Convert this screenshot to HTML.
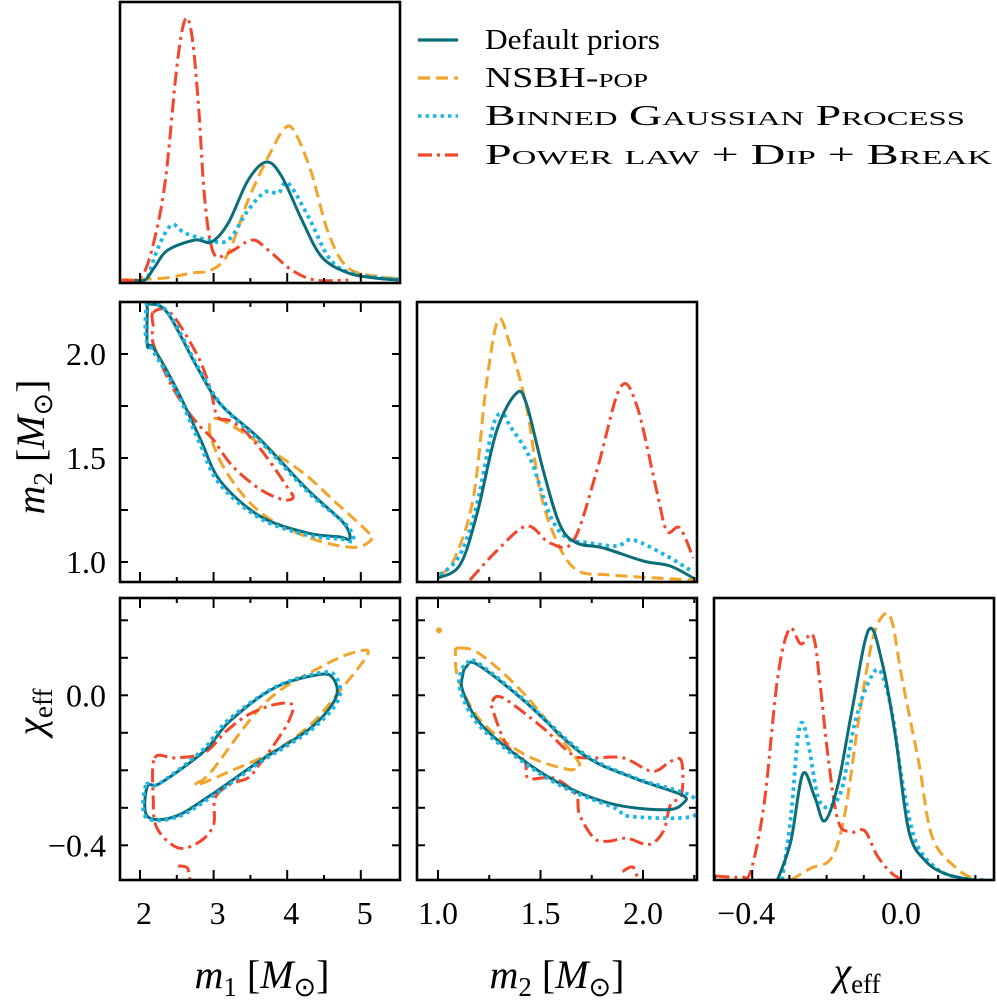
<!DOCTYPE html>
<html><head><meta charset="utf-8">
<style>
html,body{margin:0;padding:0;background:#fff;}
svg{display:block;}
text{font-family:"Liberation Serif","DejaVu Serif",serif;fill:#000;}
</style></head>
<body>
<svg id="fig" width="997" height="1004" viewBox="0 0 997 1004" xmlns="http://www.w3.org/2000/svg">
<defs>
<clipPath id="c-top"><rect x="120" y="2" width="280" height="281"/></clipPath>
<clipPath id="c-m2m1"><rect x="120" y="302" width="280" height="280"/></clipPath>
<clipPath id="c-m2"><rect x="417" y="302" width="280" height="280"/></clipPath>
<clipPath id="c-chim1"><rect x="120" y="598" width="280" height="282"/></clipPath>
<clipPath id="c-chim2"><rect x="417" y="598" width="280" height="282"/></clipPath>
<clipPath id="c-chi"><rect x="714" y="598" width="280" height="282"/></clipPath>
</defs>
<g id="marks"></g>
<g id="axes"></g>
<g id="legend">
  <line x1="418" y1="40" x2="458" y2="40" stroke="#0b6e79" stroke-width="3.2"/>
  <text x="485" y="49" font-size="28" textLength="175" lengthAdjust="spacingAndGlyphs">Default priors</text>
  <line x1="418" y1="78" x2="458" y2="78" stroke="#f2a42b" stroke-width="3.2" stroke-dasharray="12,6"/>
  <text x="485" y="87" font-size="28" textLength="163" lengthAdjust="spacingAndGlyphs" style="font-variant:small-caps">NSBH-pop</text>
  <line x1="418" y1="116" x2="458" y2="116" stroke="#1cb5e6" stroke-width="3.6" stroke-dasharray="3.5,4"/>
  <text x="485" y="125" font-size="28" textLength="480" lengthAdjust="spacingAndGlyphs" style="font-variant:small-caps">Binned Gaussian Process</text>
  <line x1="418" y1="155" x2="458" y2="155" stroke="#f4462a" stroke-width="3.2" stroke-dasharray="14,5,3,5"/>
  <text x="485" y="164" font-size="28" textLength="507" lengthAdjust="spacingAndGlyphs" style="font-variant:small-caps">Power law + Dip + Break</text>
</g>
</svg>
<script>
// ---- data: 1D marginals (density in arbitrary units) ----
const m1Teal = [1.93,2.07,2.2,2.38,2.75,2.97,3.2,3.47,3.72,3.93,4.2,4.47,4.83,5.19,5.51];
const d1Teal = [0,0,13,30,40,38,57,100,118,103,60,23,7,2,0];
const m1Orange = [1.75,2.34,2.7,2.97,3.2,3.47,3.74,3.97,4.11,4.33,4.56,4.83,5.28,5.51];
const d1Orange = [0,2,7,10,27,80,123,152,147,107,47,12,3,2];
const m1Blue = [2.11,2.25,2.43,2.61,2.93,3.2,3.47,3.7,3.88,4.01,4.29,4.56,4.83,5.28,5.51];
const d1Blue = [3,33,55,47,40,40,70,88,87,97,63,23,8,2,1];
const m1Red = [1.75,2.0,2.16,2.34,2.5,2.61,2.7,2.79,2.88,3.0,3.2,3.52,3.74,4.06,4.38,4.83];
const d1Red = [0,2,30,97,213,260,247,180,80,27,27,40,30,10,0,0];

const m2Orange = [1.0,1.075,1.172,1.238,1.294,1.351,1.433,1.498,1.579,1.677,1.839,2.244];
const d2Orange = [5,19,82,199,260,235,172,89,39,10,5,0];
const m2Teal = [1.0,1.107,1.189,1.286,1.384,1.433,1.514,1.595,1.677,1.807,2.001,2.132,2.245];
const d2Teal = [2,15,65,149,187,175,109,55,37,32,19,14,2];
const m2Blue = [1.01,1.107,1.189,1.27,1.319,1.351,1.449,1.546,1.628,1.741,1.872,1.953,2.116,2.229];
const d2Blue = [5,25,75,155,165,154,122,65,42,37,34,40,24,10];
const m2Red = [1.156,1.286,1.433,1.546,1.66,1.774,1.888,1.969,2.067,2.116,2.18,2.245];
const d2Red = [0,29,54,37,39,109,192,175,89,49,52,22];

const chiRed = [-0.499,-0.431,-0.404,-0.368,-0.332,-0.30,-0.269,-0.237,-0.219,-0.196,-0.169,-0.133,-0.097,-0.06,-0.006,0.066];
const d3Red = [4,3,9,76,201,251,236,245,201,123,59,48,49,22,2,0];
const chiTeal = [-0.332,-0.296,-0.264,-0.232,-0.205,-0.169,-0.133,-0.087,-0.051,-0.015,0.021,0.066,0.121,0.193];
const d3Teal = [0,39,106,83,59,96,167,250,218,144,49,19,6,0];
const chiBlue = [-0.32,-0.296,-0.278,-0.264,-0.246,-0.223,-0.196,-0.16,-0.124,-0.087,-0.056,-0.024,0.003,0.039,0.094,0.157,0.229];
const d3Blue = [0,63,140,157,130,83,73,90,157,198,209,167,100,39,12,2,0];
const chiOrange = [-0.296,-0.241,-0.187,-0.151,-0.115,-0.078,-0.047,-0.024,0.003,0.048,0.084,0.148,0.202];
const d3Orange = [0,12,22,66,157,238,265,258,201,117,43,12,0];

// ---- data: 2D credible contours, [x-value, y-value] pairs ----
const cM2M1Teal = [[2.11,2.24],[2.37,2.2],[2.77,1.94],[3.09,1.76],[3.63,1.59],[4.27,1.35],[4.76,1.19],[4.85,1.11],[4.72,1.12],[4.27,1.14],[3.63,1.22],[3.09,1.39],[2.82,1.59],[2.5,1.83],[2.18,2.03],[2.1,2.04],[2.1,2.21]];
const cM2M1Blue = [[2.13,2.25],[2.4,2.19],[2.8,1.93],[3.12,1.75],[3.66,1.57],[4.3,1.33],[4.8,1.18],[4.9,1.1],[4.74,1.11],[4.27,1.13],[3.63,1.21],[3.07,1.38],[2.8,1.58],[2.47,1.84],[2.15,2.03],[2.08,2.08],[2.08,2.2]];
const cM2M1Orange = [[3.05,1.69],[3.54,1.59],[4.21,1.43],[4.68,1.28],[5.08,1.15],[5.15,1.11],[4.89,1.07],[4.27,1.12],[3.63,1.24],[3.18,1.43],[2.95,1.62]];
const cM2M1Red = [[2.18,2.2],[2.41,2.2],[2.77,2.0],[2.95,1.84],[3.05,1.7],[3.22,1.68],[3.45,1.62],[3.73,1.5],[4.0,1.36],[4.08,1.31],[3.94,1.3],[3.63,1.35],[3.26,1.46],[2.99,1.59],[2.82,1.65],[2.64,1.73],[2.41,1.86],[2.18,2.05],[2.18,2.13]];

const cChiM1Teal = [[2.1,-0.243],[2.1,-0.323],[2.48,-0.323],[2.97,-0.265],[3.62,-0.176],[4.32,-0.087],[4.66,-0.007],[4.62,0.046],[4.42,0.055],[3.82,0.019],[3.22,-0.069],[2.87,-0.149],[2.28,-0.234]];
const cChiM1Blue = [[2.08,-0.24],[2.08,-0.325],[2.5,-0.325],[2.99,-0.268],[3.64,-0.178],[4.34,-0.09],[4.7,-0.01],[4.66,0.05],[4.45,0.06],[3.84,0.022],[3.2,-0.066],[2.85,-0.146],[2.26,-0.236]];
const cChiM1Orange = [[2.77,-0.234],[2.97,-0.203],[3.72,-0.016],[4.52,0.082],[4.96,0.117],[5.09,0.108],[4.71,0.011],[4.32,-0.078],[3.82,-0.149],[3.22,-0.203],[2.8,-0.238]];
const cChiM1Red = [[2.2,-0.167],[2.47,-0.167],[2.87,-0.154],[3.17,-0.096],[3.47,-0.052],[3.82,-0.025],[4.07,-0.025],[4.02,-0.069],[3.82,-0.132],[3.62,-0.185],[3.47,-0.22],[3.22,-0.238],[3.02,-0.274],[3.0,-0.345],[2.82,-0.389],[2.52,-0.407],[2.23,-0.354],[2.18,-0.274]];
const fChiM1Red = [[2.52,-0.455],[2.64,-0.46],[2.68,-0.49]];

const cChiM2Teal = [[1.139,0.077],[1.192,0.082],[1.423,-0.016],[1.708,-0.158],[1.957,-0.221],[2.188,-0.265],[2.197,-0.287],[2.117,-0.305],[1.868,-0.292],[1.637,-0.247],[1.423,-0.176],[1.21,-0.078],[1.121,0.011],[1.121,0.055]];
const cChiM2Blue = [[1.14,0.085],[1.19,0.088],[1.42,-0.012],[1.71,-0.155],[1.96,-0.22],[2.24,-0.27],[2.24,-0.323],[1.94,-0.323],[1.86,-0.3],[1.63,-0.25],[1.42,-0.18],[1.2,-0.08],[1.11,0.01],[1.11,0.06]];
const cChiM2Orange = [[1.103,0.126],[1.21,0.108],[1.423,0.002],[1.672,-0.167],[1.672,-0.185],[1.637,-0.198],[1.423,-0.158],[1.21,-0.069],[1.103,0.037],[1.085,0.108]];
const cChiM2Red = [[1.264,-0.016],[1.317,-0.007],[1.512,-0.087],[1.654,-0.158],[1.744,-0.167],[1.903,-0.167],[2.046,-0.203],[2.134,-0.176],[2.188,-0.176],[2.188,-0.265],[2.134,-0.292],[2.099,-0.363],[2.028,-0.398],[1.921,-0.381],[1.832,-0.389],[1.761,-0.381],[1.69,-0.318],[1.672,-0.265],[1.566,-0.221],[1.441,-0.221],[1.423,-0.176],[1.334,-0.132],[1.264,-0.034]];
const fChiM2Red = [[1.9,-0.47],[1.95,-0.458],[1.975,-0.49]];
const dotChiM2Orange = [1.005,0.173];

// tick labels
const m1Ticks = [2,3,4,5];
const m2Ticks = [1.0,1.5,2.0];
const chiYTicks = [0.0,-0.4];
const chiXTicks = [-0.4,0.0];

// ---- axis functions ----
const xM1 = v => 140 + (v-2)*73.6;
const xM2 = v => 438 + (v-1)*205;
const xChi = v => 901 + v*372;
const yM2 = v => 354 + (2-v)*208;
const yChi = v => 695.3 - v*375;
const yTop = d => 280 - d;
const yMid = d => 580 - d;
const yBot = d => 880 - d;

const NS = "http://www.w3.org/2000/svg";
const marks = document.getElementById('marks');
const axes = document.getElementById('axes');

const STY = {
  teal:{c:'#0b6e79',dash:null,w:3},
  orange:{c:'#f2a42b',dash:'12,6',w:3},
  blue:{c:'#1cb5e6',dash:'3.5,4',w:3.8},
  red:{c:'#f4462a',dash:'14,5,3,5',w:3}
};

function crPath(pts, closed){
  const n = pts.length;
  let d = 'M'+pts[0][0].toFixed(1)+','+pts[0][1].toFixed(1);
  const segs = closed ? n : n-1;
  for(let i=0;i<segs;i++){
    const p0 = pts[closed ? (i-1+n)%n : Math.max(i-1,0)];
    const p1 = pts[i];
    const p2 = pts[closed ? (i+1)%n : i+1];
    const p3 = pts[closed ? (i+2)%n : Math.min(i+2,n-1)];
    const c1 = [p1[0]+(p2[0]-p0[0])/6, p1[1]+(p2[1]-p0[1])/6];
    const c2 = [p2[0]-(p3[0]-p1[0])/6, p2[1]-(p3[1]-p1[1])/6];
    d += 'C'+c1[0].toFixed(1)+','+c1[1].toFixed(1)+' '+c2[0].toFixed(1)+','+c2[1].toFixed(1)+' '+p2[0].toFixed(1)+','+p2[1].toFixed(1);
  }
  if(closed) d+='Z';
  return d;
}

function drawPath(pts, closed, style, clip, name){
  const p = document.createElementNS(NS,'path');
  p.setAttribute('d', crPath(pts, closed));
  p.setAttribute('fill','none');
  p.setAttribute('stroke', STY[style].c);
  p.setAttribute('stroke-width', STY[style].w);
  if(STY[style].dash) p.setAttribute('stroke-dasharray', STY[style].dash);
  p.setAttribute('clip-path','url(#'+clip+')');
  
  
  marks.appendChild(p);
}

function line1D(xs, ds, fx, fy, style, clip, name){
  const pts = xs.map((v,i)=>[fx(v), fy(ds[i])]);
  drawPath(pts, false, style, clip, name);
}
function contour(arr, fx, fy, style, clip, name, closed){
  const pts = arr.map(p=>[fx(p[0]), fy(p[1])]);
  drawPath(pts, closed!==false, style, clip, name);
}

line1D(m1Orange,d1Orange,xM1,yTop,'orange','c-top','m1-marginal-nsbh');
line1D(m1Blue,d1Blue,xM1,yTop,'blue','c-top','m1-marginal-bgp');
line1D(m1Red,d1Red,xM1,yTop,'red','c-top','m1-marginal-pdb');
line1D(m1Teal,d1Teal,xM1,yTop,'teal','c-top','m1-marginal-default');
line1D(m2Orange,d2Orange,xM2,yMid,'orange','c-m2','m2-marginal-nsbh');
line1D(m2Blue,d2Blue,xM2,yMid,'blue','c-m2','m2-marginal-bgp');
line1D(m2Red,d2Red,xM2,yMid,'red','c-m2','m2-marginal-pdb');
line1D(m2Teal,d2Teal,xM2,yMid,'teal','c-m2','m2-marginal-default');
line1D(chiOrange,d3Orange,xChi,yBot,'orange','c-chi','chi-marginal-nsbh');
line1D(chiBlue,d3Blue,xChi,yBot,'blue','c-chi','chi-marginal-bgp');
line1D(chiRed,d3Red,xChi,yBot,'red','c-chi','chi-marginal-pdb');
line1D(chiTeal,d3Teal,xChi,yBot,'teal','c-chi','chi-marginal-default');
contour(cM2M1Orange,xM1,yM2,'orange','c-m2m1','m2-m1-contour-nsbh');
contour(cM2M1Red,xM1,yM2,'red','c-m2m1','m2-m1-contour-pdb');
contour(cM2M1Teal,xM1,yM2,'teal','c-m2m1','m2-m1-contour-default');
contour(cM2M1Blue,xM1,yM2,'blue','c-m2m1','m2-m1-contour-bgp');
contour(cChiM1Orange,xM1,yChi,'orange','c-chim1','chi-m1-contour-nsbh');
contour(cChiM1Red,xM1,yChi,'red','c-chim1','chi-m1-contour-pdb');
contour(fChiM1Red,xM1,yChi,'red','c-chim1','chi-m1-contour-pdb-fragment',false);
contour(cChiM1Teal,xM1,yChi,'teal','c-chim1','chi-m1-contour-default');
contour(cChiM1Blue,xM1,yChi,'blue','c-chim1','chi-m1-contour-bgp');
contour(cChiM2Orange,xM2,yChi,'orange','c-chim2','chi-m2-contour-nsbh');
contour(cChiM2Red,xM2,yChi,'red','c-chim2','chi-m2-contour-pdb');
contour(fChiM2Red,xM2,yChi,'red','c-chim2','chi-m2-contour-pdb-fragment',false);
contour(cChiM2Teal,xM2,yChi,'teal','c-chim2','chi-m2-contour-default');
contour(cChiM2Blue,xM2,yChi,'blue','c-chim2','chi-m2-contour-bgp');
{
  const c = document.createElementNS(NS,'circle');
  c.setAttribute('cx', xM2(dotChiM2Orange[0]));
  c.setAttribute('cy', yChi(dotChiM2Orange[1]));
  c.setAttribute('r','3');
  c.setAttribute('fill', STY.orange.c);
  
  
  marks.appendChild(c);
}

function el(tag, attrs){
  const e = document.createElementNS(NS, tag);
  for(const k in attrs) e.setAttribute(k, attrs[k]);
  axes.appendChild(e);
  return e;
}
function tick(x1,y1,x2,y2){
  const t = el('line',{x1,y1,x2,y2,stroke:'#000','stroke-width':'2'});
  
  
}
function xTicks(fx, vals, top, bottom, both){
  vals.forEach(([v,maj])=>{
    const x = fx(v); const L = maj?10:5;
    tick(x,bottom,x,bottom-L);
    if(both) tick(x,top,x,top+L);
  });
}
function yTicks(fy, vals, left, right){
  vals.forEach(v=>{
    const y = fy(v);
    tick(left,y,left+8,y);
    tick(right,y,right-8,y);
  });
}
const m1TickVals = [[2,1],[2.5,0],[3,1],[3.5,0],[4,1],[4.5,0],[5,1]];
const m2TickVals = [[1,1],[1.25,0],[1.5,1],[1.75,0],[2,1],[2.25,0]];
const chiTickVals = [[-0.5,0],[-0.4,1],[-0.3,0],[-0.2,0],[-0.1,0],[0,1],[0.1,0],[0.2,0]];
const m2YTickVals = [1.0,1.25,1.5,1.75,2.0];
const chiYTickVals = [-0.4,-0.3,-0.2,-0.1,0,0.1,0.2];

xTicks(xM1, m1TickVals, 2, 283, false);
xTicks(xM1, m1TickVals, 302, 582, true);
xTicks(xM2, m2TickVals, 302, 582, false);
xTicks(xM1, m1TickVals, 598, 880, true);
xTicks(xM2, m2TickVals, 598, 880, true);
xTicks(xChi, chiTickVals, 598, 880, false);
yTicks(yM2, m2YTickVals, 120, 400);
yTicks(yChi, chiYTickVals, 120, 400);
yTicks(yChi, chiYTickVals, 417, 697);

[['frame-m1-marginal',120,2,280,281],['frame-m2-vs-m1',120,302,280,280],['frame-m2-marginal',417,302,280,280],
 ['frame-chi-vs-m1',120,598,280,282],['frame-chi-vs-m2',417,598,280,282],['frame-chi-marginal',714,598,280,282]].forEach(f=>{
  const r = el('rect',{x:f[1],y:f[2],width:f[3],height:f[4],fill:'none',stroke:'#000','stroke-width':'2.6'});
  
  
});

function label(x,y,txt,anchor,name){
  const t = el('text',{x,y,'font-size':'32','text-anchor':anchor});
  t.textContent = txt;
  
  
}
m1Ticks.forEach(v=>label(xM1(v)+4,924,String(v),'middle','m1-tick-label'));
m2Ticks.forEach(v=>label(xM2(v),924,v.toFixed(1),'middle','m2-tick-label'));
chiXTicks.forEach(v=>label(xChi(v)+(v<0?-6:0),924,(v<0?'\u2212':'')+Math.abs(v).toFixed(1),'middle','chi-tick-label'));
m2Ticks.forEach(v=>label(106,yM2(v)+11,v.toFixed(1),'end','m2-y-tick-label'));
chiYTicks.forEach(v=>label(106,yChi(v)+11,(v<0?'\u2212':'')+Math.abs(v).toFixed(1),'end','chi-y-tick-label'));
</script>
<svg style="position:absolute;left:0;top:0" width="997" height="1004" xmlns="http://www.w3.org/2000/svg">
  <text x="262" y="988" font-size="40" text-anchor="middle" style="font-family:'Liberation Serif',serif"><tspan font-style="italic">m</tspan><tspan font-size="27" dy="8">1</tspan><tspan dy="-8"> [</tspan><tspan font-style="italic">M</tspan><tspan font-size="27" dy="8">⊙</tspan><tspan dy="-8">]</tspan></text>
  <text x="557" y="988" font-size="40" text-anchor="middle" style="font-family:'Liberation Serif',serif"><tspan font-style="italic">m</tspan><tspan font-size="27" dy="8">2</tspan><tspan dy="-8"> [</tspan><tspan font-style="italic">M</tspan><tspan font-size="27" dy="8">⊙</tspan><tspan dy="-8">]</tspan></text>
  <text x="857" y="985" font-size="40" text-anchor="middle" style="font-family:'Liberation Serif',serif"><tspan font-style="italic">χ</tspan><tspan font-size="27" dy="8">eff</tspan></text>
  <text transform="translate(44,447) rotate(-90)" font-size="40" text-anchor="middle" style="font-family:'Liberation Serif',serif"><tspan font-style="italic">m</tspan><tspan font-size="27" dy="8">2</tspan><tspan dy="-8"> [</tspan><tspan font-style="italic">M</tspan><tspan font-size="27" dy="8">⊙</tspan><tspan dy="-8">]</tspan></text>
  <text transform="translate(44,712) rotate(-90)" font-size="40" text-anchor="middle" style="font-family:'Liberation Serif',serif"><tspan font-style="italic">χ</tspan><tspan font-size="27" dy="8">eff</tspan></text>
</svg>
</body></html>
